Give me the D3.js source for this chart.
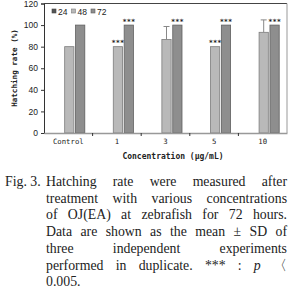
<!DOCTYPE html>
<html>
<head>
<meta charset="utf-8">
<script src="https://d3js.org/d3.v7.min.js"></script>
<style>
  body { margin:0; background:#fff; }
  svg text { fill:#222; }
</style>
</head>
<body>
<svg id="chart" width="293" height="307"></svg>
<script>
// chart values
var categories = ["Control", "1", "3", "5", "10"];
var series = ["24", "48", "72"];
var hatch24 = [0, 0, 0, 0, 0];
var hatch48 = [80, 80, 86.7, 80, 93.3];
var hatch72 = [100, 100, 100, 100, 100];
var sd48 = [0, 0, 12, 0, 11.5];
var sd72 = [0, 0, 0, 0, 0];
var star48 = [false, true, false, true, false];
var star72 = [false, true, true, true, true];
var yTicks = [0, 20, 40, 60, 80, 100, 120];

var caption = [
  ["Hatching rate were measured after", true],
  ["treatment with various concentrations", true],
  ["of OJ(EA) at zebrafish for 72 hours.", true],
  ["Data are shown as the mean \u00b1 SD of", true],
  ["three independent experiments", true],
  ["performed in duplicate. *** : p \u3008", true],
  ["0.005.", false]
];

var svg = d3.select("#chart");
var plotL = 44, plotR = 287, plotT = 3.5, plotB = 133;

var x = d3.scaleBand().domain(categories).range([plotL, plotR]);
var xs = d3.scaleBand().domain(series).range([-14.5, 16.5]).paddingInner(0.15);
var y = d3.scaleLinear().domain([0, 120]).range([plotB, plotT]);

var colors = {"24": "#555", "48": "#b9b9b9", "72": "#8e8e8e"};
var strokes = {"24": "#444", "48": "#7d7d7d", "72": "#606060"};

// frame
svg.append("line").attr("x1", plotL).attr("x2", plotR).attr("y1", plotT).attr("y2", plotT)
  .attr("stroke", "#444").attr("stroke-width", 1);
svg.append("line").attr("x1", plotR).attr("x2", plotR).attr("y1", plotT).attr("y2", plotB)
  .attr("stroke", "#999").attr("stroke-width", 1);

// y axis
var yAxis = svg.append("g").attr("transform", "translate(" + plotL + ",0)")
  .call(d3.axisLeft(y).tickValues(yTicks).tickSize(3).tickPadding(3));
yAxis.select(".domain").attr("stroke", "#333");
yAxis.selectAll(".tick line").attr("stroke", "#333");
yAxis.selectAll("text").style("font-family", "Liberation Sans, Arial, sans-serif")
  .style("font-size", "8.5px").attr("fill", "#333");

// bars
var rows = categories.map(function(c, i) {
  return {cat: c, vals: [
    {s: "24", v: hatch24[i], sd: 0, star: false},
    {s: "48", v: hatch48[i], sd: sd48[i], star: star48[i]},
    {s: "72", v: hatch72[i], sd: sd72[i], star: star72[i]}
  ]};
});

var grp = svg.selectAll("g.cat").data(rows).enter().append("g")
  .attr("class", "cat")
  .attr("transform", function(d) { return "translate(" + (x(d.cat) + x.bandwidth() / 2) + ",0)"; });

grp.selectAll("g.err").data(function(d) { return d.vals.filter(function(v) { return v.sd > 0; }); })
  .enter().append("g").attr("class", "err").each(function(d) {
    var g = d3.select(this), cx = xs(d.s) + xs.bandwidth() / 2;
    g.append("line").attr("x1", cx).attr("x2", cx).attr("y1", y(d.v)).attr("y2", y(d.v + d.sd))
      .attr("stroke", "#888").attr("stroke-width", 1);
    g.append("line").attr("x1", cx - 3).attr("x2", cx + 3).attr("y1", y(d.v + d.sd)).attr("y2", y(d.v + d.sd))
      .attr("stroke", "#888").attr("stroke-width", 1);
  });

grp.selectAll("rect").data(function(d) { return d.vals.filter(function(v) { return v.v > 0; }); })
  .enter().append("rect")
  .attr("x", function(d) { return xs(d.s); })
  .attr("width", xs.bandwidth())
  .attr("y", function(d) { return y(d.v); })
  .attr("height", function(d) { return y(0) - y(d.v); })
  .attr("fill", function(d) { return colors[d.s]; })
  .attr("stroke", function(d) { return strokes[d.s]; })
  .attr("stroke-width", 0.8);

grp.selectAll("text.star").data(function(d) { return d.vals.filter(function(v) { return v.star; }); })
  .enter().append("text").attr("class", "star")
  .attr("x", function(d) { return xs(d.s) + xs.bandwidth() / 2; })
  .attr("y", function(d) { return y(d.v + d.sd) - 1.5; })
  .attr("text-anchor", "middle")
  .style("font-family", "DejaVu Sans Mono, monospace").style("font-size", "7px")
  .style("font-weight", "bold").attr("fill", "#444")
  .text("***");

// x axis
var xAxis = svg.append("g").attr("transform", "translate(0," + plotB + ")")
  .call(d3.axisBottom(x).tickSize(0).tickPadding(6));
xAxis.select(".domain").attr("stroke", "#999").attr("stroke-width", 1.5);
xAxis.selectAll("text").style("font-family", "DejaVu Sans Mono, monospace")
  .style("font-size", "7.3px").attr("fill", "#333");
svg.append("g").selectAll("line").data(categories.slice(1)).enter().append("line")
  .attr("x1", function(d) { return x(d); }).attr("x2", function(d) { return x(d); })
  .attr("y1", plotB).attr("y2", plotB + 3).attr("stroke", "#333");

// axis titles
svg.append("text").attr("x", 173).attr("y", 159).attr("text-anchor", "middle")
  .style("font-family", "DejaVu Sans Mono, monospace").style("font-size", "8px")
  .style("font-weight", "bold").text("Concentration (\u03bcg/mL)");
svg.append("text").attr("transform", "translate(17,68) rotate(-90)").attr("text-anchor", "middle")
  .style("font-family", "DejaVu Sans Mono, monospace").style("font-size", "7.6px")
  .style("font-weight", "bold").text("Hatching rate (%)");

// legend
var leg = svg.append("g").selectAll("g").data(series).enter().append("g")
  .attr("transform", function(d, i) { return "translate(" + (52 + i * 19.5) + ",12)"; });
leg.append("rect").attr("x", 0).attr("y", -3).attr("width", 4).attr("height", 4)
  .attr("fill", function(d) { return colors[d]; }).attr("stroke", function(d) { return strokes[d]; })
  .attr("stroke-width", 0.6);
leg.append("text").attr("x", 6).attr("y", 2.5)
  .style("font-family", "Liberation Sans, Arial, sans-serif").style("font-size", "8.5px")
  .attr("fill", "#333").text(function(d) { return d; });

// caption
var cap = svg.append("g").style("font-family", "Liberation Serif, serif").style("font-size", "13.8px");
cap.append("text").attr("x", 5).attr("y", 186).attr("fill", "#333").text("Fig. 3.");
var capL = 46, capR = 287;
caption.forEach(function(line, li) {
  var words = line[0].split(" ");
  var yy = 186 + li * 16.7;
  var nodes = words.map(function(w) {
    var t = cap.append("text").attr("y", yy).attr("fill", "#333").text(w);
    if (w === "p") t.style("font-style", "italic");
    return t;
  });
  var widths = nodes.map(function(n) { return n.node().getComputedTextLength(); });
  var total = d3.sum(widths);
  var gap = line[1] && words.length > 1 ? (capR - capL - total) / (words.length - 1) : 3.5;
  var xx = capL;
  nodes.forEach(function(n, i) { n.attr("x", xx); xx += widths[i] + gap; });
});
</script>
</body>
</html>
